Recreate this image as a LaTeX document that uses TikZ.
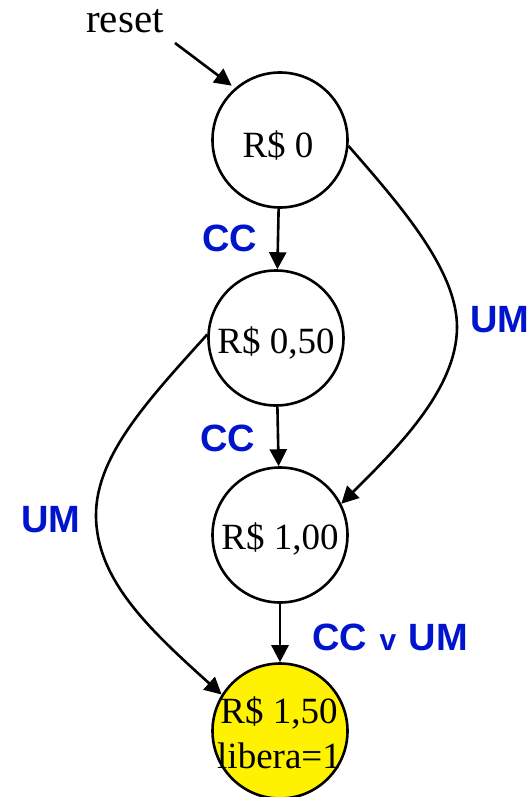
\documentclass[tikz,border=0pt]{standalone}
\usepackage{fontspec}
\setmainfont{Liberation Serif}
\setsansfont{Liberation Sans}
\usetikzlibrary{arrows.meta}
\definecolor{lblblue}{RGB}{0,20,205}
\begin{document}
\begin{tikzpicture}[x=1pt,y=-1pt,
  state/.style={circle,draw=black,line width=2.6pt,minimum size=135pt,inner sep=0pt},
  stext/.style={font=\fontsize{37}{45}\selectfont,inner sep=0pt,anchor=base,align=center},
  lbl/.style={font=\fontsize{38}{38}\selectfont\sffamily\bfseries,text=lblblue,inner sep=0pt},
  conn/.style={line width=2.6pt,-{Triangle[length=17pt,width=17pt]}}]
\useasboundingbox (0,0) rectangle (529,797);
% states
\node[state] (s0) at (280,140) {};
\node[state] (s1) at (276,338) {};
\node[state] (s2) at (280,535) {};
\node[state,fill=yellow] (s3) at (280,731) {};
% state texts
\node[stext] (t0) at (278,157) {R\$ 0};
\node[stext] (t1) at (276,353) {R\$ 0,50};
\node[stext] (t2) at (280,549) {R\$ 1,00};
\node[stext,anchor=center] (t3) at (279,733) {R\$ 1,50\\libera=1};
% reset
\node[font=\fontsize{41}{41}\selectfont,inner sep=0pt,anchor=base] (rs) at (125,33) {reset};
\coordinate (rst) at (175,43);
\draw[conn,shorten >=4pt] (rst) -- (s0.131);
% straight transitions
\draw[conn] (s0) -- (s1);
\draw[conn] (s1) -- (s2);
\draw[conn] (s2) -- (s3);
% curved transitions
\coordinate (rmid) at (457,327);
\draw[line width=2.6pt] (s0.-5) .. controls (400,205) and (457,270) .. (rmid);
\draw[conn] (rmid) .. controls (457,390) and (395,450) .. (s2.27);
\coordinate (lmid) at (96,515);
\draw[line width=2.6pt] (s1.177) .. controls (150,398) and (96,455) .. (lmid);
\draw[conn] (lmid) .. controls (96,580) and (150,630) .. (s3.148);
% labels
\node[lbl] (l1) at (230,238) {CC};
\node[lbl] (l2) at (228,438) {CC};
\node[lbl,anchor=west] (l3) at (470,320) {UM};
\node[lbl] (l4) at (51,520) {UM};
\node[lbl] (l5) at (390,637) {CC\,\,{\fontsize{30}{30}\selectfont v}\,\,UM};
\end{tikzpicture}
\end{document}
